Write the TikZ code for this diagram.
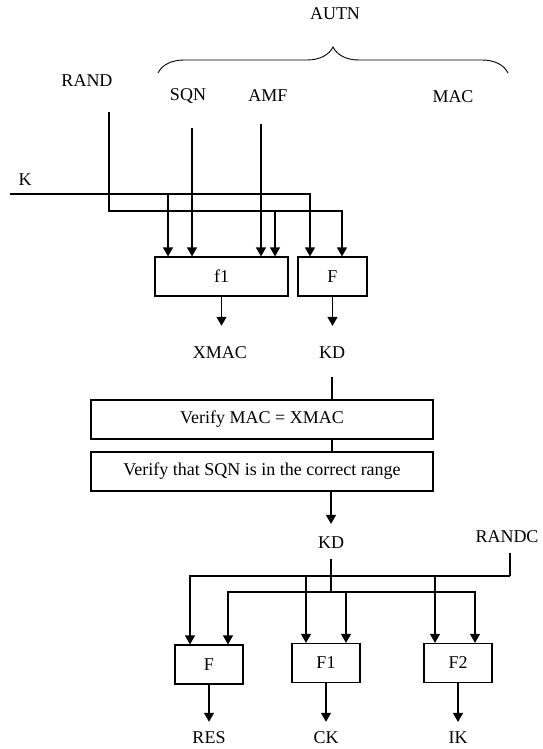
\documentclass[tikz,border=0pt]{standalone}
\usepackage{fontspec}
\setmainfont{Liberation Serif}
\usetikzlibrary{arrows.meta,positioning,decorations.pathreplacing}

\begin{document}
\begin{tikzpicture}[
  x=1pt, y=-1pt,
  font=\fontsize{18}{20}\selectfont,
  lbl/.style={inner sep=0pt},
  blk/.style={draw, line width=1.2pt, minimum height=39pt, inner sep=0pt},
  wire/.style={line width=1.2pt},
  arr/.style={wire, -{Triangle[width=10pt,length=9pt]}}
]
\useasboundingbox (0,0) rectangle (542,749);

% inputs
\node[lbl] (autn) at (335,14) {AUTN};
\node[lbl] (rand) at (87,81) {RAND};
\node[lbl] (sqn) at (188,96) {SQN};
\node[lbl] (amf) at (268,96) {AMF};
\node[lbl] (mac) at (453,97) {MAC};
\node[lbl] (k) at (25,180) {K};
\draw[decorate, decoration={brace, amplitude=26pt}, line width=0.9pt] (158,73) -- (508,73);

% first functions
\node[blk, minimum width=133pt] (f1) at (221.5,276.5) {f1};
\node[blk, minimum width=69pt] (fk) at (332.5,276.5) {F};
\node[lbl] (xmac) at (220,353) {XMAC};
\node[lbl] (kd) at (332,353) {KD};

\coordinate (kin) at (10,194);
\coordinate (randout) at (109,112);
\coordinate (randbus) at (109,211);
\coordinate (sqnout) at (192,128);
\coordinate (amfout) at (261,124);
\coordinate (f1-k) at ([xshift=-53.5pt]f1.north);
\coordinate (f1-r) at ([xshift=53.5pt]f1.north);
\coordinate (fk-k) at ([xshift=-22.5pt]fk.north);
\coordinate (fk-r) at ([xshift=9.5pt]fk.north);

\draw[arr] (kin) -| (fk-k);
\draw[arr] (kin -| f1-k) -- (f1-k);
\draw[arr] (randout) -- (randbus) -| (fk-r);
\draw[arr] (randbus -| f1-r) -- (f1-r);
\draw[arr] (sqnout) -- (sqnout |- f1.north);
\draw[arr] (amfout) -- (amfout |- f1.north);

\draw[arr, shorten >=21pt] (f1.south) -- (f1.south |- xmac.north);
\draw[arr, shorten >=21pt] (fk.south) -- (fk.south |- kd.north);

% checks
\node[blk, minimum width=342pt] (vmac) at (262,419.5) {Verify MAC = XMAC};
\node[blk, minimum width=342pt] (vsqn) at (262,471.5) {Verify that SQN is in the correct range};
\draw[wire, shorten <=18pt] (kd.south) -- (kd.south |- vmac.north);
\draw[wire] (kd.south |- vmac.south) -- (kd.south |- vsqn.north);

\node[lbl] (kdc) at (331,543) {KD};
\node[lbl] (randc) at (507,537) {RANDC};
\draw[arr, shorten >=13pt] (kdc |- vsqn.south) -- (kdc.north);

% key derivation
\node[blk, minimum width=68pt] (fres) at (209,664.5) {F};
\node[blk, minimum width=68pt] (fck) at (326,663) {F1};
\node[blk, minimum width=68pt] (fik) at (458,663) {F2};
\node[lbl] (res) at (209,738) {RES};
\node[lbl] (ck) at (326,738) {CK};
\node[lbl] (ik) at (458,738) {IK};

\coordinate (rcbus) at (510,576);
\coordinate (kdbus) at (331,592);
\coordinate (fres-l) at ([xshift=-19pt]fres.north);
\coordinate (fres-r) at ([xshift=19pt]fres.north);
\coordinate (fck-l) at ([xshift=-20pt]fck.north);
\coordinate (fck-r) at ([xshift=20pt]fck.north);
\coordinate (fik-l) at ([xshift=-23pt]fik.north);
\coordinate (fik-r) at ([xshift=17pt]fik.north);

\draw[wire, shorten <=10pt] (randc.south -| rcbus) -- (rcbus);
\draw[arr] (rcbus) -| (fres-l);
\draw[arr] (rcbus -| fck-l) -- (fck-l);
\draw[arr] (rcbus -| fik-l) -- (fik-l);

\draw[wire, shorten <=10pt] (kdc.south) -- (kdbus);
\draw[arr] (kdbus) -| (fres-r);
\draw[arr] (kdbus) -| (fik-r);
\draw[arr] (kdbus -| fck-r) -- (fck-r);

\draw[arr, shorten >=10pt] (fres.south) -- (fres.south |- res.north);
\draw[arr, shorten >=10pt] (fck.south) -- (fck.south |- ck.north);
\draw[arr, shorten >=10pt] (fik.south) -- (fik.south |- ik.north);
\end{tikzpicture}
\end{document}
